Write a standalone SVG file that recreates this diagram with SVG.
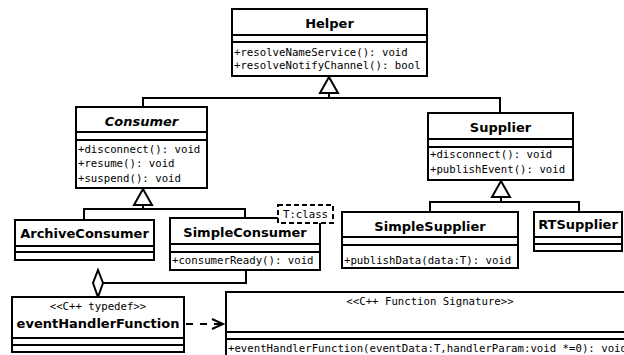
<svg xmlns="http://www.w3.org/2000/svg" width="624" height="355" viewBox="0 0 624 355">
<style>
.box{fill:#fff;stroke:#000;stroke-width:2}
.sep{stroke:#000;stroke-width:2;fill:none}
.t{font-family:"DejaVu Sans","Liberation Sans",sans-serif;font-weight:bold;font-size:13px;text-anchor:middle;fill:#000}
.ti{font-style:italic}
.m{font-family:"DejaVu Sans Mono","Liberation Mono",monospace;font-size:10.7px;fill:#000}
.st{font-family:"DejaVu Sans Mono","Liberation Mono",monospace;font-size:10.7px;fill:#000;text-anchor:middle}
.ln{fill:none;stroke:#000;stroke-width:2}
.tri{fill:#fff;stroke:#000;stroke-width:2}
.dash{fill:none;stroke:#000;stroke-width:2;stroke-dasharray:7,7}
</style>
<rect width="624" height="355" fill="#fff"/>
<g id="connectors">
  <polyline class="ln" points="329,93 329,98"/>
  <polyline class="ln" points="143,107 143,98 500,98 500,113"/>
  <polygon class="tri" points="329,77 320,93 338,93"/>
  <polyline class="ln" points="143,205 143,209"/>
  <polyline class="ln" points="84,220 84,209 245,209 245,218"/>
  <polygon class="tri" points="143,189 134,205 152,205"/>
  <polyline class="ln" points="501,197 501,202"/>
  <polyline class="ln" points="430,212 430,202 579,202 579,212"/>
  <polygon class="tri" points="501,181 492,197 510,197"/>
  <polyline class="ln" points="246,270 246,283 103,283"/>
  <polygon class="tri" points="98,270 103,283 98,297 93,283"/>
  <line class="dash" x1="186" y1="324" x2="221" y2="324"/>
  <polyline class="ln" points="212,319 223,324 212,329"/>
</g>
<g id="Helper">
  <rect class="box" x="232" y="9" width="195" height="67"/>
  <line class="sep" x1="232" y1="35" x2="427" y2="35"/>
  <line class="sep" x1="232" y1="42" x2="427" y2="42"/>
  <text class="t" x="329.5" y="28">Helper</text>
  <text class="m" x="234" y="56">+resolveNameService(): void</text>
  <text class="m" x="234" y="69">+resolveNotifyChannel(): bool</text>
</g>
<g id="Consumer">
  <rect class="box" x="76" y="107" width="131" height="81"/>
  <line class="sep" x1="76" y1="132" x2="207" y2="132"/>
  <line class="sep" x1="76" y1="140" x2="207" y2="140"/>
  <text class="t ti" x="141.5" y="126">Consumer</text>
  <text class="m" x="78" y="153">+disconnect(): void</text>
  <text class="m" x="78" y="167">+resume(): void</text>
  <text class="m" x="78" y="182">+suspend(): void</text>
</g>
<g id="Supplier">
  <rect class="box" x="428" y="113" width="145" height="67"/>
  <line class="sep" x1="428" y1="139" x2="573" y2="139"/>
  <line class="sep" x1="428" y1="147" x2="573" y2="147"/>
  <text class="t" x="500.5" y="132">Supplier</text>
  <text class="m" x="430" y="158">+disconnect(): void</text>
  <text class="m" x="430" y="173">+publishEvent(): void</text>
</g>
<g id="ArchiveConsumer">
  <rect class="box" x="15" y="220" width="139" height="40"/>
  <line class="sep" x1="15" y1="246" x2="154" y2="246"/>
  <line class="sep" x1="15" y1="252" x2="154" y2="252"/>
  <text class="t" x="84.5" y="238">ArchiveConsumer</text>
</g>
<g id="SimpleConsumer">
  <rect class="box" x="170" y="218" width="150" height="52"/>
  <line class="sep" x1="170" y1="244" x2="320" y2="244"/>
  <line class="sep" x1="170" y1="252" x2="320" y2="252"/>
  <text class="t" x="245" y="237">SimpleConsumer</text>
  <text class="m" x="172" y="264">+consumerReady(): void</text>
  <rect x="278" y="205" width="55" height="18" fill="#fff" stroke="#000" stroke-width="2" stroke-dasharray="5,3"/>
  <text class="m" x="283" y="218">T:class</text>
</g>
<g id="SimpleSupplier">
  <rect class="box" x="342" y="212" width="176" height="56"/>
  <line class="sep" x1="342" y1="237" x2="518" y2="237"/>
  <line class="sep" x1="342" y1="245" x2="518" y2="245"/>
  <text class="t" x="430" y="231">SimpleSupplier</text>
  <text class="m" x="344" y="264">+publishData(data:T): void</text>
</g>
<g id="RTSupplier">
  <rect class="box" x="534" y="212" width="88" height="39"/>
  <line class="sep" x1="534" y1="237" x2="622" y2="237"/>
  <line class="sep" x1="534" y1="244" x2="622" y2="244"/>
  <text class="t" x="578" y="229">RTSupplier</text>
</g>
<g id="eventHandlerFunction">
  <rect class="box" x="12" y="297" width="172" height="55"/>
  <line class="sep" x1="12" y1="338" x2="184" y2="338"/>
  <line class="sep" x1="12" y1="345" x2="184" y2="345"/>
  <text class="st" x="98" y="310">&lt;&lt;C++ typedef&gt;&gt;</text>
  <text class="t" x="98" y="328">eventHandlerFunction</text>
</g>
<g id="FunctionSignature">
  <rect class="box" x="226" y="292" width="408" height="80"/>
  <line class="sep" x1="226" y1="332" x2="634" y2="332"/>
  <line class="sep" x1="226" y1="339" x2="634" y2="339"/>
  <text class="st" x="430" y="305">&lt;&lt;C++ Function Signature&gt;&gt;</text>
  <text class="m" x="228" y="352">+eventHandlerFunction(eventData:T,handlerParam:void *=0): void</text>
</g>
</svg>
